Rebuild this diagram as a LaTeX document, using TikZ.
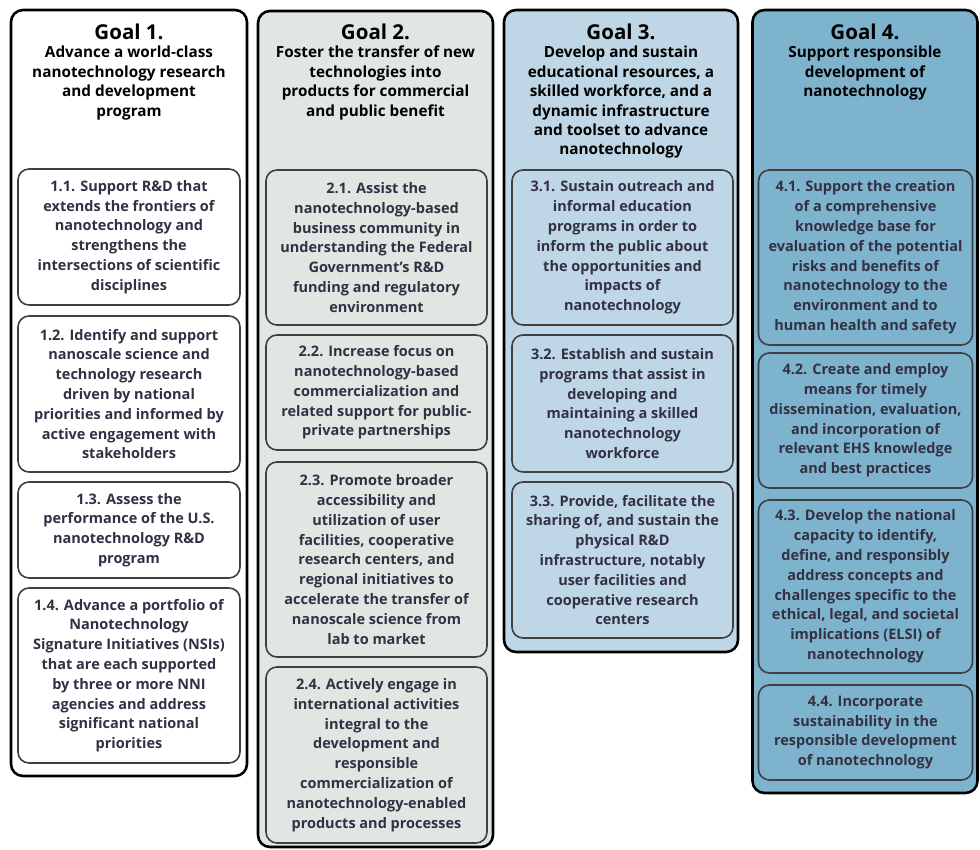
\documentclass[tikz,border=0pt]{standalone}
\usepackage{fontspec}
\setmainfont{Open Sans}
\usepackage{tikz}
\usetikzlibrary{positioning}

\definecolor{goaltwo}{RGB}{224,231,226}
\definecolor{goalthree}{RGB}{190,214,229}
\definecolor{goalfour}{RGB}{126,179,206}
\definecolor{subtext}{RGB}{52,48,68}

\begin{document}
\begin{tikzpicture}[
  x=1pt,y=-1pt,
  panel/.style={draw=black, line width=2.6pt, rounded corners=12pt},
  subgoal/.style={draw=black!75, line width=1.6pt, rounded corners=11pt, inner sep=1pt, align=center, text=subtext, font=\fontsize{14.5}{19.8}\selectfont\bfseries},
  title/.style={font=\fontsize{20.5}{24}\selectfont\bfseries},
  goaltext/.style={anchor=north, align=center, inner sep=0pt, font=\fontsize{15.3}{19.4}\selectfont\bfseries}
]
  \useasboundingbox (0,0) rectangle (980,850);

  \node[panel, fill=white, minimum width=236pt, minimum height=766pt] (g1) at (129,393) {};
  \node[panel, fill=goaltwo, minimum width=235pt, minimum height=836pt] (g2) at (375.5,429) {};
  \node[panel, fill=goalthree, minimum width=234pt, minimum height=642pt] (g3) at (621,331) {};
  \node[panel, fill=goalfour, minimum width=225pt, minimum height=783pt] (g4) at (865,401.5) {};

  \node[title] (t1) at (129,32) {Goal 1.};
  \node[title] (t2) at (375.5,32) {Goal 2.};
  \node[title] (t3) at (621,32) {Goal 3.};
  \node[title] (t4) at (865,32) {Goal 4.};

  \node[goaltext] (d1) at (129,46) {Advance a world-class\\nanotechnology research\\and development\\program};
  \node[goaltext] (d2) at (375.5,46) {Foster the transfer of new\\technologies into\\products for commercial\\and public benefit};
  \node[goaltext] (d3) at (621,46) {Develop and sustain\\educational resources, a\\skilled workforce, and a\\dynamic infrastructure\\and toolset to advance\\nanotechnology};
  \node[goaltext] (d4) at (865,46) {Support responsible\\development of\\nanotechnology};

  \node[subgoal, fill=white, minimum width=222pt, minimum height=136pt] (s11) at (129,237) {1.1. Support R\&D that\\extends the frontiers of\\nanotechnology and\\strengthens the\\intersections of scientific\\disciplines};
  \node[subgoal, fill=white, minimum width=222pt, minimum height=156pt] (s12) at (129,394) {1.2. Identify and support\\nanoscale science and\\technology research\\driven by national\\priorities and informed by\\active engagement with\\stakeholders};
  \node[subgoal, fill=white, minimum width=222pt, minimum height=96pt] (s13) at (129,530) {1.3. Assess the\\performance of the U.S.\\nanotechnology R\&D\\program};
  \node[subgoal, fill=white, minimum width=222pt, minimum height=175pt] (s14) at (129,675.5) {1.4. Advance a portfolio of\\Nanotechnology\\Signature Initiatives (NSIs)\\that are each supported\\by three or more NNI\\agencies and address\\significant national\\priorities};

  \node[subgoal, fill=goaltwo, minimum width=221pt, minimum height=155pt] (s21) at (376.5,247.5) {2.1. Assist the\\nanotechnology-based\\business community in\\understanding the Federal\\Government's R\&D\\funding and regulatory\\environment};
  \node[subgoal, fill=goaltwo, minimum width=221pt, minimum height=115pt] (s22) at (376.5,392.5) {2.2. Increase focus on\\nanotechnology-based\\commercialization and\\related support for public-\\private partnerships};
  \node[subgoal, fill=goaltwo, minimum width=221pt, minimum height=195pt] (s23) at (376.5,559.5) {2.3. Promote broader\\accessibility and\\utilization of user\\facilities, cooperative\\research centers, and\\regional initiatives to\\accelerate the transfer of\\nanoscale science from\\lab to market};
  \node[subgoal, fill=goaltwo, minimum width=221pt, minimum height=176pt] (s24) at (376.5,755) {2.4. Actively engage in\\international activities\\integral to the\\development and\\responsible\\commercialization of\\nanotechnology-enabled\\products and processes};

  \node[subgoal, fill=goalthree, minimum width=221pt, minimum height=155pt] (s31) at (622.5,247.5) {3.1. Sustain outreach and\\informal education\\programs in order to\\inform the public about\\the opportunities and\\impacts of\\nanotechnology};
  \node[subgoal, fill=goalthree, minimum width=221pt, minimum height=137pt] (s32) at (622.5,403.5) {3.2. Establish and sustain\\programs that assist in\\developing and\\maintaining a skilled\\nanotechnology\\workforce};
  \node[subgoal, fill=goalthree, minimum width=221pt, minimum height=156pt] (s33) at (622.5,560) {3.3. Provide, facilitate the\\sharing of, and sustain the\\physical R\&D\\infrastructure, notably\\user facilities and\\cooperative research\\centers};

  \node[subgoal, fill=goalfour, minimum width=214pt, minimum height=175pt] (s41) at (865.5,257.5) {4.1. Support the creation\\of a comprehensive\\knowledge base for\\evaluation of the potential\\risks and benefits of\\nanotechnology to the\\environment and to\\human health and safety};
  \node[subgoal, fill=goalfour, minimum width=214pt, minimum height=135pt] (s42) at (865.5,420.5) {4.2. Create and employ\\means for timely\\dissemination, evaluation,\\and incorporation of\\relevant EHS knowledge\\and best practices};
  \node[subgoal, fill=goalfour, minimum width=214pt, minimum height=173pt] (s43) at (865.5,586.5) {4.3. Develop the national\\capacity to identify,\\define, and responsibly\\address concepts and\\challenges specific to the\\ethical, legal, and societal\\implications (ELSI) of\\nanotechnology};
  \node[subgoal, fill=goalfour, minimum width=214pt, minimum height=95pt] (s44) at (865.5,732.5) {4.4. Incorporate\\sustainability in the\\responsible development\\of nanotechnology};
\end{tikzpicture}
\end{document}
